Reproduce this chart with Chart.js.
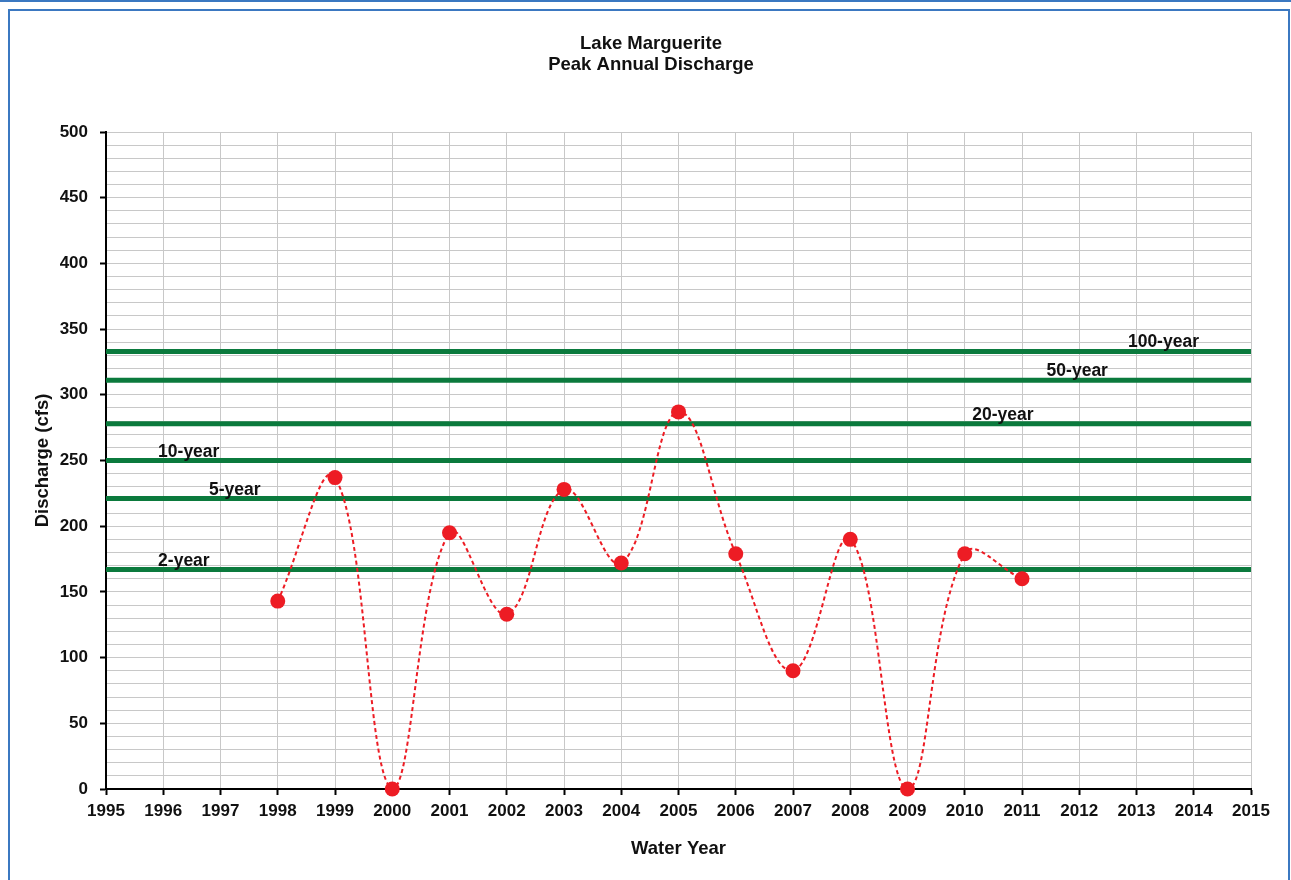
<!DOCTYPE html>
<html>
<head>
<meta charset="utf-8">
<script src="https://cdn.jsdelivr.net/npm/chart.js@4.4.1/dist/chart.umd.min.js"></script>
<style>
  html, body { margin: 0; padding: 0; background: #fff; }
  body { width: 1291px; height: 880px; position: relative; overflow: hidden; }
  #topline { position: absolute; left: 0; top: 0; width: 1291px; height: 2px; background: #3b78c1; }
  #frame { position: absolute; left: 8px; top: 9px; width: 1278px; height: 880px; border: 2px solid #3b78c1; border-bottom: none; }
  #wrap { position: absolute; left: 0; top: 0; width: 1291px; height: 880px; }
</style>
</head>
<body>
<div id="topline"></div>
<div id="frame"></div>
<div id="wrap"><canvas id="dischargeChart"></canvas></div>
<script>
// peak annual discharge
const years = [1998, 1999, 2000, 2001, 2002, 2003, 2004, 2005, 2006, 2007, 2008, 2009, 2010, 2011];
const discharge = [143, 237, 0, 195, 133, 228, 172, 287, 179, 90, 190, 0, 179, 160];

// recurrence interval flows (cfs)
const returnLabels = ["100-year", "50-year", "20-year", "10-year", "5-year", "2-year"];
const returnFlows = [333, 311, 278, 250, 221, 167];
// where each label starts, in water years
const labelStart = [2012.85, 2011.43, 2010.13, 1995.91, 1996.8, 1995.91];

const xMin = 1995, xMax = 2015;

const FONT = "'Liberation Sans', Arial, sans-serif";
const GREEN = "#0b7a3d";
const RED = "#ed1c24";

// labels sitting on the green lines
const returnLabelPlugin = {
  id: "returnLabels",
  afterDatasetsDraw(chart) {
    const { ctx, scales } = chart;
    ctx.save();
    ctx.font = "bold 17.5px " + FONT;
    ctx.fillStyle = "#111";
    ctx.textAlign = "left";
    ctx.textBaseline = "alphabetic";
    returnLabels.forEach((txt, i) => {
      const x = scales.x.getPixelForValue(labelStart[i]);
      const y = scales.y.getPixelForValue(returnFlows[i]) - 4;
      ctx.fillText(txt, x, y);
    });
    ctx.restore();
  }
};

// two line title, centred a bit left of the plot
const titlePlugin = {
  id: "twoLineTitle",
  afterDraw(chart) {
    const { ctx } = chart;
    ctx.save();
    ctx.font = "bold 18.5px " + FONT;
    ctx.fillStyle = "#111";
    ctx.textAlign = "center";
    ctx.textBaseline = "middle";
    ctx.fillText("Lake Marguerite", 651, 44);
    ctx.fillText("Peak Annual Discharge", 651, 65);
    ctx.restore();
  }
};

const datasets = [{
  label: "Peak discharge",
  data: years.map((yr, i) => ({ x: yr, y: discharge[i] })),
  borderColor: RED,
  borderWidth: 2,
  borderDash: [4, 3],
  tension: 0.4,
  pointRadius: 7.5,
  pointBackgroundColor: RED,
  pointBorderColor: RED,
  pointBorderWidth: 0,
  clip: false,
  order: 0
}];

returnFlows.forEach((v, i) => {
  datasets.push({
    label: returnLabels[i],
    data: [{ x: xMin, y: v }, { x: xMax, y: v }],
    borderColor: GREEN,
    borderWidth: 5,
    pointRadius: 0,
    tension: 0,
    order: 1
  });
});

const titleFont = { family: FONT, size: 18.5, weight: "bold" };
const tickFont = { family: FONT, size: 17, weight: "bold" };

new Chart(document.getElementById("dischargeChart"), {
  type: "line",
  data: { datasets },
  options: {
    responsive: true,
    maintainAspectRatio: false,
    animation: false,
    layout: { padding: { top: 132, left: 32, right: 40, bottom: 0 } },
    plugins: {
      legend: { display: false },
      tooltip: { enabled: false },
      title: { display: false }
    },
    scales: {
      x: {
        type: "linear",
        min: xMin,
        max: xMax,
        afterFit: s => { s.height = 91; },
        ticks: {
          stepSize: 1,
          autoSkip: false,
          maxRotation: 0,
          padding: 6,
          color: "#111",
          font: tickFont,
          callback: v => String(v)
        },
        grid: {
          color: "#c8c8c8",
          lineWidth: 1,
          drawTicks: true,
          tickLength: 6,
          tickColor: "#000",
          tickWidth: 2
        },
        border: { color: "#000", width: 2 },
        title: {
          display: true,
          text: "Water Year",
          color: "#111",
          font: titleFont,
          padding: { top: 0, bottom: 20 }
        }
      },
      y: {
        min: 0,
        max: 500,
        afterFit: s => { s.width = 74; },
        ticks: {
          stepSize: 10,
          autoSkip: false,
          padding: 12,
          color: "#111",
          font: tickFont,
          callback: v => (v % 50 === 0 ? String(v) : "")
        },
        grid: {
          color: "#c8c8c8",
          lineWidth: 1,
          tickLength: 6,
          tickWidth: 2,
          tickColor: c => (c.tick && c.tick.value % 50 === 0 ? "#000" : "rgba(0,0,0,0)")
        },
        border: { color: "#000", width: 2 },
        title: {
          display: true,
          text: "Discharge (cfs)",
          color: "#111",
          font: titleFont,
          padding: { top: 0, bottom: 0 }
        }
      }
    }
  },
  plugins: [returnLabelPlugin, titlePlugin]
});
</script>
</body>
</html>
